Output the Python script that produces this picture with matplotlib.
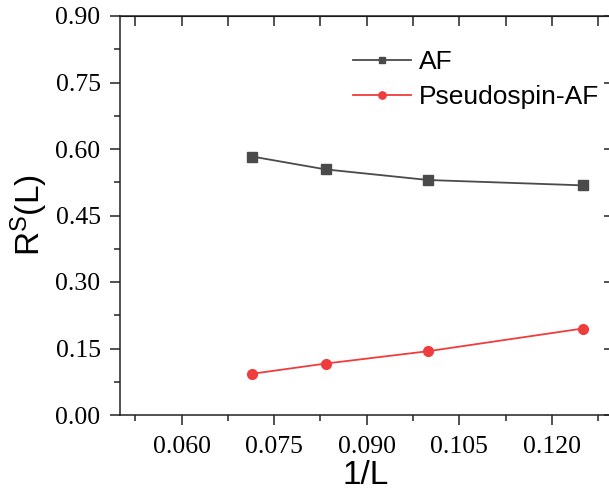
import matplotlib
matplotlib.use("Agg")
import matplotlib.pyplot as plt
from matplotlib.ticker import MultipleLocator, FormatStrFormatter

inv_L = [1/14, 1/12, 1/10, 1/8]
af = [0.583, 0.554, 0.530, 0.518]
pseudo_af = [0.093, 0.116, 0.144, 0.195]
series_names = ["AF", "Pseudospin-AF"]

plt.rcParams['mathtext.fontset'] = 'custom'
plt.rcParams['mathtext.rm'] = 'Liberation Sans'
plt.rcParams['mathtext.it'] = 'Liberation Sans'

fig = plt.figure(figsize=(6.09, 4.95), dpi=100)
ax = fig.add_axes([120/609, 1-415/495, 491/609, 399/495])

ax.plot(inv_L, af, color='#4a4a4a', lw=1.3, marker='s', ms=6.5, label=series_names[0])
ax.plot(inv_L, pseudo_af, color='#f03c3c', lw=1.3, marker='o', ms=7, label=series_names[1])

ax.set_xlim(0.050, 0.1296)
ax.set_ylim(0.0, 0.90)
ax.xaxis.set_major_locator(MultipleLocator(0.015))
ax.xaxis.set_minor_locator(MultipleLocator(0.0075))
ax.yaxis.set_major_locator(MultipleLocator(0.15))
ax.yaxis.set_minor_locator(MultipleLocator(0.075))
ax.xaxis.set_major_formatter(FormatStrFormatter('%.3f'))
ax.yaxis.set_major_formatter(FormatStrFormatter('%.2f'))
ax.set_xticks([0.060, 0.075, 0.090, 0.105, 0.120])

for s in ax.spines.values():
    s.set_linewidth(1.1)
    s.set_color('#222222')

ax.tick_params(axis='both', which='major', direction='out', length=7, width=1.1, labelsize=18.5, color='#222222')
ax.tick_params(axis='both', which='minor', direction='out', length=4, width=1.1, color='#222222')
ax.tick_params(axis='x', which='major', pad=8)
ax.tick_params(axis='y', which='major', pad=7)
for lab in ax.get_xticklabels() + ax.get_yticklabels():
    lab.set_family('Liberation Serif')

# top & right inward ticks
axt = ax.secondary_xaxis('top')
axt.xaxis.set_major_locator(MultipleLocator(0.0075))
axt.xaxis.set_minor_locator(plt.NullLocator())
axt.tick_params(direction='in', length=7, width=1.1, labeltop=False, color='#222222')
axr = ax.secondary_yaxis('right')
axr.yaxis.set_major_locator(MultipleLocator(0.15))
axr.yaxis.set_minor_locator(plt.NullLocator())
axr.tick_params(direction='in', length=5, width=1.1, labelright=False, color='#222222')

ax.set_xlabel('1/L', fontsize=24, family='Liberation Sans')
ax.xaxis.set_label_coords(0.5, -0.112)
ax.set_ylabel(r'R$^{\mathrm{S}}$(L)', fontsize=24, family='Liberation Sans')
ax.yaxis.set_label_coords(-0.142, 0.5)

leg = ax.legend(loc='upper left', bbox_to_anchor=(0.4525, 0.94), frameon=False,
                prop={'family': 'Liberation Sans', 'size': 19},
                handlelength=2.2, handletextpad=0.3, labelspacing=0.4, markerscale=0.75,
                borderaxespad=0)

fig.savefig('out.png', dpi=100)
